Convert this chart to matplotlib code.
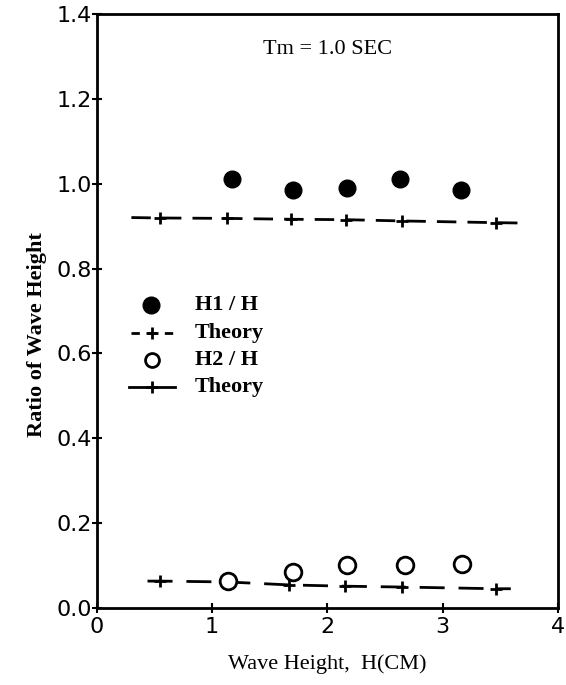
import numpy as np
import matplotlib.pyplot as plt

plt.rcParams['font.family'] = ['Liberation Serif', 'DejaVu Serif']

# Datos
h1_x = [1.17, 1.70, 2.17, 2.63, 3.16]
h1_y = [1.01, 0.985, 0.99, 1.01, 0.985]

h2_x = [1.14, 1.70, 2.17, 2.67, 3.17]
h2_y = [0.064, 0.085, 0.103, 0.102, 0.105]

theory1_x = [0.30, 0.55, 1.13, 1.68, 2.16, 2.65, 3.46, 3.70]
theory1_y = [0.920, 0.919, 0.918, 0.916, 0.915, 0.912, 0.908, 0.907]

theory2_x = [0.44, 0.55, 1.13, 1.67, 2.15, 2.65, 3.46, 3.59]
theory2_y = [0.064, 0.064, 0.062, 0.055, 0.052, 0.050, 0.046, 0.046]

xticks = [0, 1, 2, 3, 4]
yticks = [0.0, 0.2, 0.4, 0.6, 0.8, 1.0, 1.2, 1.4]

fig = plt.figure(figsize=(5.66, 6.85), dpi=100)
ax = fig.add_axes([0.171, 0.112, 0.815, 0.868])

# Curvas teoricas (cruces solo en los puntos interiores)
ax.plot(theory1_x, theory1_y, color='black', lw=2, dashes=(7, 4),
        marker='+', markersize=9, markeredgewidth=2, markevery=list(range(1, 7)))
ax.plot(theory2_x, theory2_y, color='black', lw=2, dashes=(9, 5),
        marker='+', markersize=9, markeredgewidth=2, markevery=list(range(1, 7)))

ax.plot(h1_x, h1_y, 'o', color='black', markersize=12, linestyle='none')
ax.plot(h2_x, h2_y, 'o', markerfacecolor='white', markeredgecolor='black',
        markeredgewidth=2, markersize=12, linestyle='none')

ax.set_xlim(0, 4)
ax.set_ylim(0, 1.4)
ax.set_xticks(xticks)
ax.set_yticks(yticks)
ax.set_yticklabels([f'{v:.1f}' for v in yticks])
ax.tick_params(direction='inout', length=7, width=1.5, labelsize=16)
ax.tick_params(axis='y', pad=0)
ax.tick_params(axis='x', pad=3)
for lab in ax.get_xticklabels() + ax.get_yticklabels():
    lab.set_family(['DejaVu Sans'])
for s in ax.spines.values():
    s.set_linewidth(2)

ax.set_xlabel('Wave Height,  H(CM)', fontsize=16, labelpad=12)
ax.set_ylabel('Ratio of Wave Height', fontsize=16, fontweight='bold')
ax.yaxis.set_label_coords(-0.108, 0.46)
ax.text(2.0, 1.315, 'Tm = 1.0 SEC', fontsize=16, ha='center', va='center')

# Leyenda dibujada a mano
leg_y = [0.713, 0.649, 0.584, 0.520]
leg_txt = ['H1 / H', 'Theory', 'H2 / H', 'Theory']
ax.plot([0.47], [leg_y[0]], 'o', color='black', markersize=12)
ax.plot([0.30, 0.66], [leg_y[1]] * 2, color='black', lw=2, dashes=(3, 3))
ax.plot([0.48], [leg_y[1]], '+', color='black', markersize=9, markeredgewidth=2)
ax.plot([0.48], [leg_y[2]], 'o', markerfacecolor='white', markeredgecolor='black',
        markeredgewidth=2, markersize=10)
ax.plot([0.28, 0.68], [leg_y[3]] * 2, color='black', lw=2)
ax.plot([0.48], [leg_y[3]], '+', color='black', markersize=9, markeredgewidth=2)
for y, t in zip(leg_y, leg_txt):
    ax.text(0.85, y, t, fontsize=16, fontweight='bold', va='center')

fig.savefig('out.png', dpi=100)
